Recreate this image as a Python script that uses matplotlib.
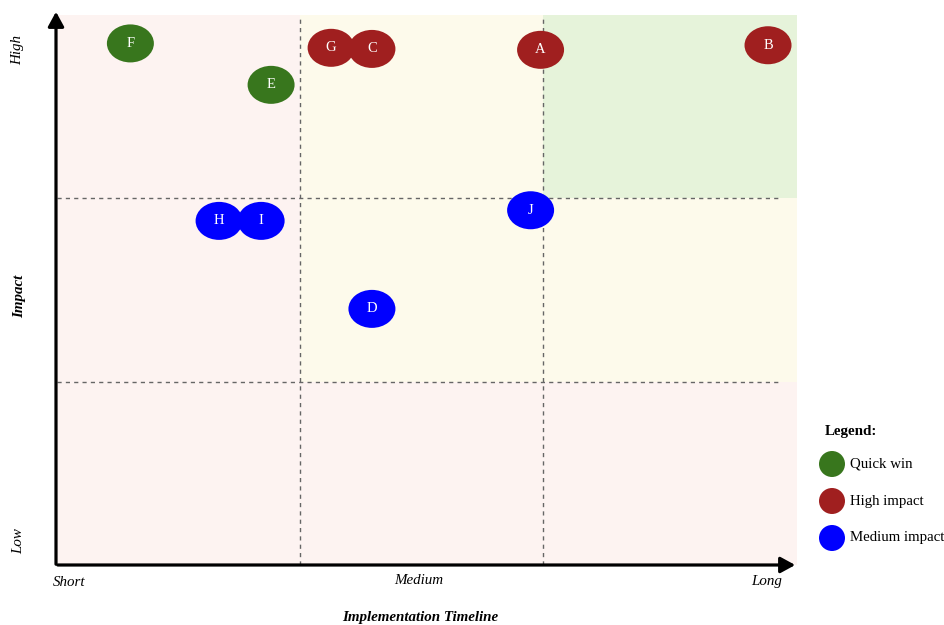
import matplotlib
matplotlib.use("Agg")
import matplotlib.pyplot as plt
from matplotlib.patches import Ellipse, Rectangle, FancyArrowPatch

plt.rcParams['font.family'] = ['Liberation Serif', 'DejaVu Serif']

labels = ["A", "B", "C", "D", "E", "F", "G", "H", "I", "J"]
timeline = [1.99, 2.926, 1.296, 1.296, 0.881, 0.302, 1.128, 0.667, 0.840, 1.949]
impact = [2.81, 2.835, 2.815, 1.397, 2.619, 2.845, 2.821, 1.877, 1.877, 1.935]
groups = ["High impact", "High impact", "High impact", "Medium impact", "Quick win",
          "Quick win", "High impact", "Medium impact", "Medium impact", "Medium impact"]
legend_names = ["Quick win", "High impact", "Medium impact"]
group_colors = {"Quick win": "#38761d", "High impact": "#a01f1f", "Medium impact": "#0000ff"}
x_tick_labels = ["Short", "Medium", "Long"]
y_tick_labels = ["Low", "High"]

W, H = 945, 625
fig = plt.figure(figsize=(9.45, 6.25), dpi=100)
ax = fig.add_axes([57 / W, 60 / H, 740 / W, 550 / H])
xmax = 740 / 243
ax.set_xlim(0, xmax)
ax.set_ylim(0, 3.0)
ax.axis('off')

# background zones
pink, yellow, green = "#fdf3f1", "#fdfaeb", "#e6f3da"
zone = [[pink, pink, pink], [pink, yellow, yellow], [pink, yellow, green]]
col_edges = [0, 1, 2, xmax]
for r in range(3):
    for c in range(3):
        ax.add_patch(Rectangle((col_edges[c], r), col_edges[c + 1] - col_edges[c], 1,
                               facecolor=zone[r][c], edgecolor='none', zorder=0))

# dashed grid lines
for xv in [1, 2]:
    ax.plot([xv, xv], [0, 3], ls=(0, (3, 3)), color="#666666", lw=1.0, zorder=1)
for yv in [1, 2]:
    ax.plot([0, 2.985], [yv, yv], ls=(0, (3, 3)), color="#666666", lw=1.0, zorder=1)

# points
ew, eh = 47 / 243, 38 / 183.3
for lab, xv, yv, g in zip(labels, timeline, impact, groups):
    ax.add_patch(Ellipse((xv, yv), ew, eh, facecolor=group_colors[g], edgecolor='none', zorder=3))
    ax.text(xv, yv, lab, color='white', ha='center', va='center', fontsize=10.5, zorder=4)

# axes arrows (figure pixel coords)
def fx(px): return px / W
def fy(py): return 1 - py / H

fig.add_artist(FancyArrowPatch((fx(55), fy(565)), (fx(798), fy(565)),
               transform=fig.transFigure, arrowstyle='-|>,head_length=5.5,head_width=3',
               mutation_scale=1.6, color='black', lw=2.3))
fig.add_artist(FancyArrowPatch((fx(56), fy(567)), (fx(56), fy(9)),
               transform=fig.transFigure, arrowstyle='-|>,head_length=5.5,head_width=3',
               mutation_scale=1.6, color='black', lw=2.3))

# tick labels
tfs = 10.8
fig.text(fx(69), fy(582), x_tick_labels[0], ha='center', va='center', style='italic', fontsize=tfs)
fig.text(fx(419), fy(580), x_tick_labels[1], ha='center', va='center', style='italic', fontsize=tfs)
fig.text(fx(767), fy(581), x_tick_labels[2], ha='center', va='center', style='italic', fontsize=tfs)
fig.text(fx(19), fy(541), y_tick_labels[0], ha='center', va='center', style='italic', fontsize=tfs, rotation=90)
fig.text(fx(18), fy(50), y_tick_labels[1], ha='center', va='center', style='italic', fontsize=tfs, rotation=90)
fig.text(fx(20), fy(296), "Impact", ha='center', va='center', style='italic', weight='bold', fontsize=10.8, rotation=90)
fig.text(fx(420), fy(617), "Implementation Timeline", ha='center', va='center', style='italic', weight='bold', fontsize=10.8)

# legend
fig.text(fx(825), fy(432), "Legend:", ha='left', va='center', weight='bold', fontsize=10.8)
for i, name in enumerate(legend_names):
    cy = 464 + 37 * i
    fig.add_artist(Ellipse((fx(832), fy(cy)), 26 / W, 26 / H, transform=fig.transFigure,
                           facecolor=group_colors[name], edgecolor='none'))
    fig.text(fx(850), fy(cy), name, ha='left', va='center', fontsize=10.7)

fig.savefig("out.png", dpi=100)
